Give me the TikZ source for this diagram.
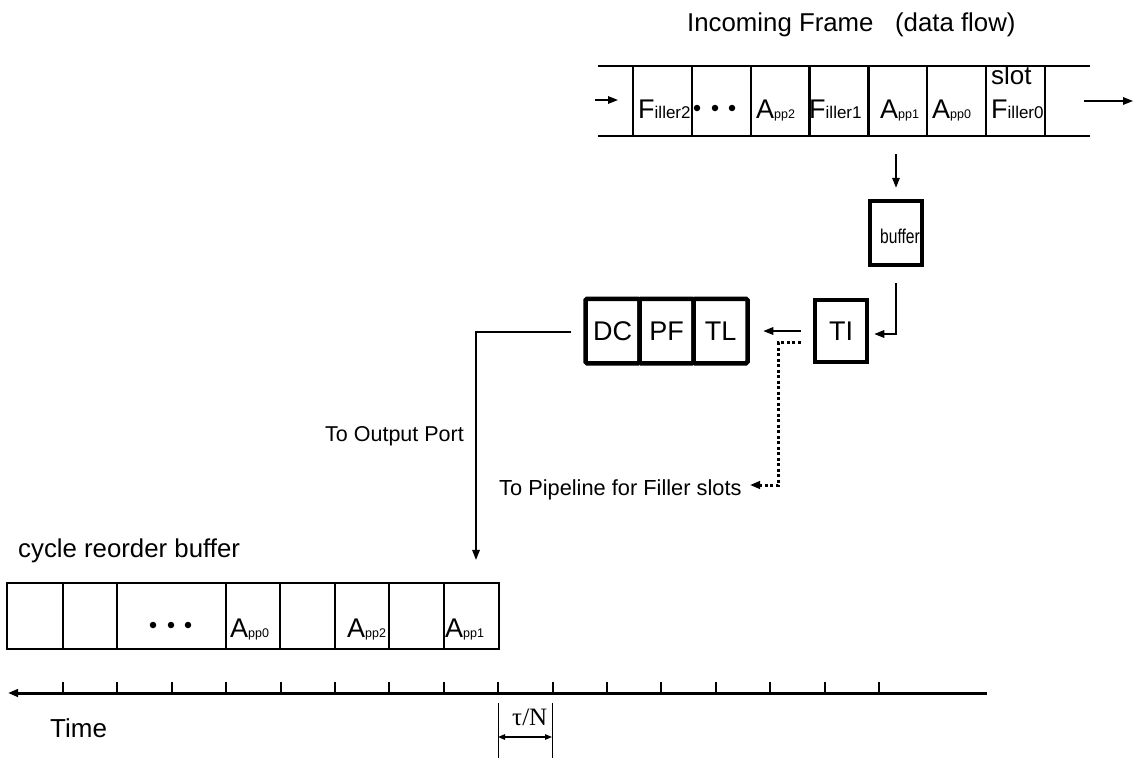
\documentclass[tikz,border=0pt]{standalone}
\usepackage{fontspec}
\setmainfont{Liberation Sans}
\newfontfamily\serifTN{Liberation Serif}
\newfontfamily\narrowSans[FakeStretch=0.78]{Liberation Sans}
\usetikzlibrary{arrows.meta,calc}
\newcommand\fsz[1]{\fontsize{#1}{#1}\selectfont}
\newcommand\Fl[1]{{\fsz{27}F}{\fsz{17}iller#1}}
\newcommand\Ap[1]{{\fsz{27}A}{\fsz{12.5}pp#1}}
\begin{document}
\begin{tikzpicture}[x=1pt,y=-1pt,
  arr/.style={-{Triangle[length=10pt,width=7.5pt]}, line width=1.6pt},
  dotline/.style={line width=3pt, dash pattern=on 3pt off 2.5pt, -{Triangle[length=10pt,width=7.5pt]}},
  cellbox/.style={draw, line width=2.2pt, inner sep=0pt},
  thickbox/.style={draw, line width=4.5pt, inner sep=0pt},
  txt/.style={inner sep=0pt, anchor=base west},
  dotc/.style={fill, circle, inner sep=0pt, minimum size=6.5pt},
  tickmark/.style={line width=2pt},
]
\useasboundingbox (0,0) rectangle (1134,761);

% ---- incoming frame ----
\node[txt] (title) at (687,31) {\fsz{25.8}Incoming Frame\ \ \ (data flow)};
\draw[line width=2.2pt] (598,66) -- (1090,66) (598,136) -- (1090,136);
\foreach \i in {0,...,6}
  \node[cellbox, minimum width=58.857pt, minimum height=70pt] (c\i) at ({633+58.857*(\i+0.5)},101) {};
\node[txt] (tF2) at (638,118) {\Fl2};
\node[dotc] (d1) at (697,108) {};
\node[dotc] (d2) at (715,108) {};
\node[dotc] (d3) at (732,108) {};
\node[txt] (tA2) at (756,118) {\Ap2};
\node[txt] (tF1) at (809,118) {\Fl1};
\node[txt] (tA1) at (880,118) {\Ap1};
\node[txt] (tA0) at (932,118) {\Ap0};
\node[txt] (tF0) at (991,118) {\Fl0};
\node[txt] (slot) at (991,84) {\fsz{26}slot};
\coordinate (inA) at (595,100);
\coordinate (inB) at (618,100);
\draw[arr] (inA) -- (inB);
\coordinate (outA) at (1084,101);
\coordinate (outB) at (1133,101);
\draw[arr] (outA) -- (outB);

% ---- buffer / TI ----
\node[thickbox, minimum width=52pt, minimum height=64pt] (buf) at (896,233) {};
\node[inner sep=0pt, anchor=base] (buftxt) at (900,243) {\narrowSans\fsz{20}buffer};
\draw[arr] ($(c4.south -| buf.north)+(0,17)$) -- ($(buf.north)+(0,-11)$);
\node[thickbox, minimum width=52pt, minimum height=62pt] (TI) at (841,331) {\fsz{27}TI};
\draw[arr] ($(buf.south)+(0,16)$) |- ($(TI.east)+(5,3)$);

% ---- DC PF TL ----
\node[thickbox, rounded corners=1.5pt, minimum width=54pt, minimum height=64.5pt] (DC) at (612.5,331) {\fsz{27}DC};
\node[thickbox, rounded corners=1.5pt, minimum width=54pt, minimum height=64.5pt] (PF) at (666.5,331) {\fsz{27}PF};
\node[thickbox, rounded corners=1.5pt, minimum width=54pt, minimum height=64.5pt] (TL) at (720.5,331) {\fsz{27}TL};
\draw[arr] ($(TI.west)+(-12,0)$) -- ($(TL.east)+(13.5,0)$);
\coordinate (pipetip) at (750,485);
\draw[dotline] ($(TI.west)+(-12,11)$) -- ++(-22,0) |- (pipetip);
\node[txt] (pipe) at (499,495) {\fsz{21.8}To Pipeline for Filler slots};
\node[txt] (outport) at (325,441) {\fsz{21.5}To Output Port};

% ---- cycle reorder buffer ----
\node[txt] (crb) at (18,557) {\fsz{25.8}cycle reorder buffer};
\node[cellbox, minimum width=56pt, minimum height=66pt] (r1) at (35,616) {};
\node[cellbox, minimum width=54pt, minimum height=66pt] (r2) at (90,616) {};
\node[cellbox, minimum width=109pt, minimum height=66pt] (r3) at (171.5,616) {};
\node[cellbox, minimum width=54pt, minimum height=66pt] (r4) at (253,616) {};
\node[cellbox, minimum width=55pt, minimum height=66pt] (r5) at (307.5,616) {};
\node[cellbox, minimum width=54pt, minimum height=66pt] (r6) at (362,616) {};
\node[cellbox, minimum width=55pt, minimum height=66pt] (r7) at (416.5,616) {};
\node[cellbox, minimum width=55pt, minimum height=66pt] (r8) at (471.5,616) {};
\node[dotc] (e1) at (153,625) {};
\node[dotc] (e2) at (171,625) {};
\node[dotc] (e3) at (188,625) {};
\node[txt] (rA0) at (230,637) {\Ap0};
\node[txt] (rA2) at (347,637) {\Ap2};
\node[txt] (rA1) at (445,637) {\Ap1};
\draw[arr] ($(DC.west)+(-12,1)$) -| ($(r8.north)+(4.5,-22)$);

% ---- time axis ----
\coordinate (tR) at (987,693);
\coordinate (tL) at (8,693);
\draw[-{Triangle[length=10pt,width=7.5pt]}, line width=3pt] (tR) -- (tL);
\foreach \k in {0,...,15}
  \draw[tickmark] ({63+54.4*\k},682) -- ({63+54.4*\k},693);
\node[txt] (time) at (50,737) {\fsz{26}Time};
\draw[line width=0.8pt] (498,703) -- (498,758) (552,703) -- (552,758);
\coordinate (ta) at (498,737);
\coordinate (tb) at (552,737);
\draw[{Triangle[length=7pt,width=5.5pt]}-{Triangle[length=7pt,width=5.5pt]}, line width=1.2pt] (ta) -- (tb);
\node[txt] (tau) at (512,725) {\serifTN\fsz{25}τ/N};
\end{tikzpicture}
\end{document}
